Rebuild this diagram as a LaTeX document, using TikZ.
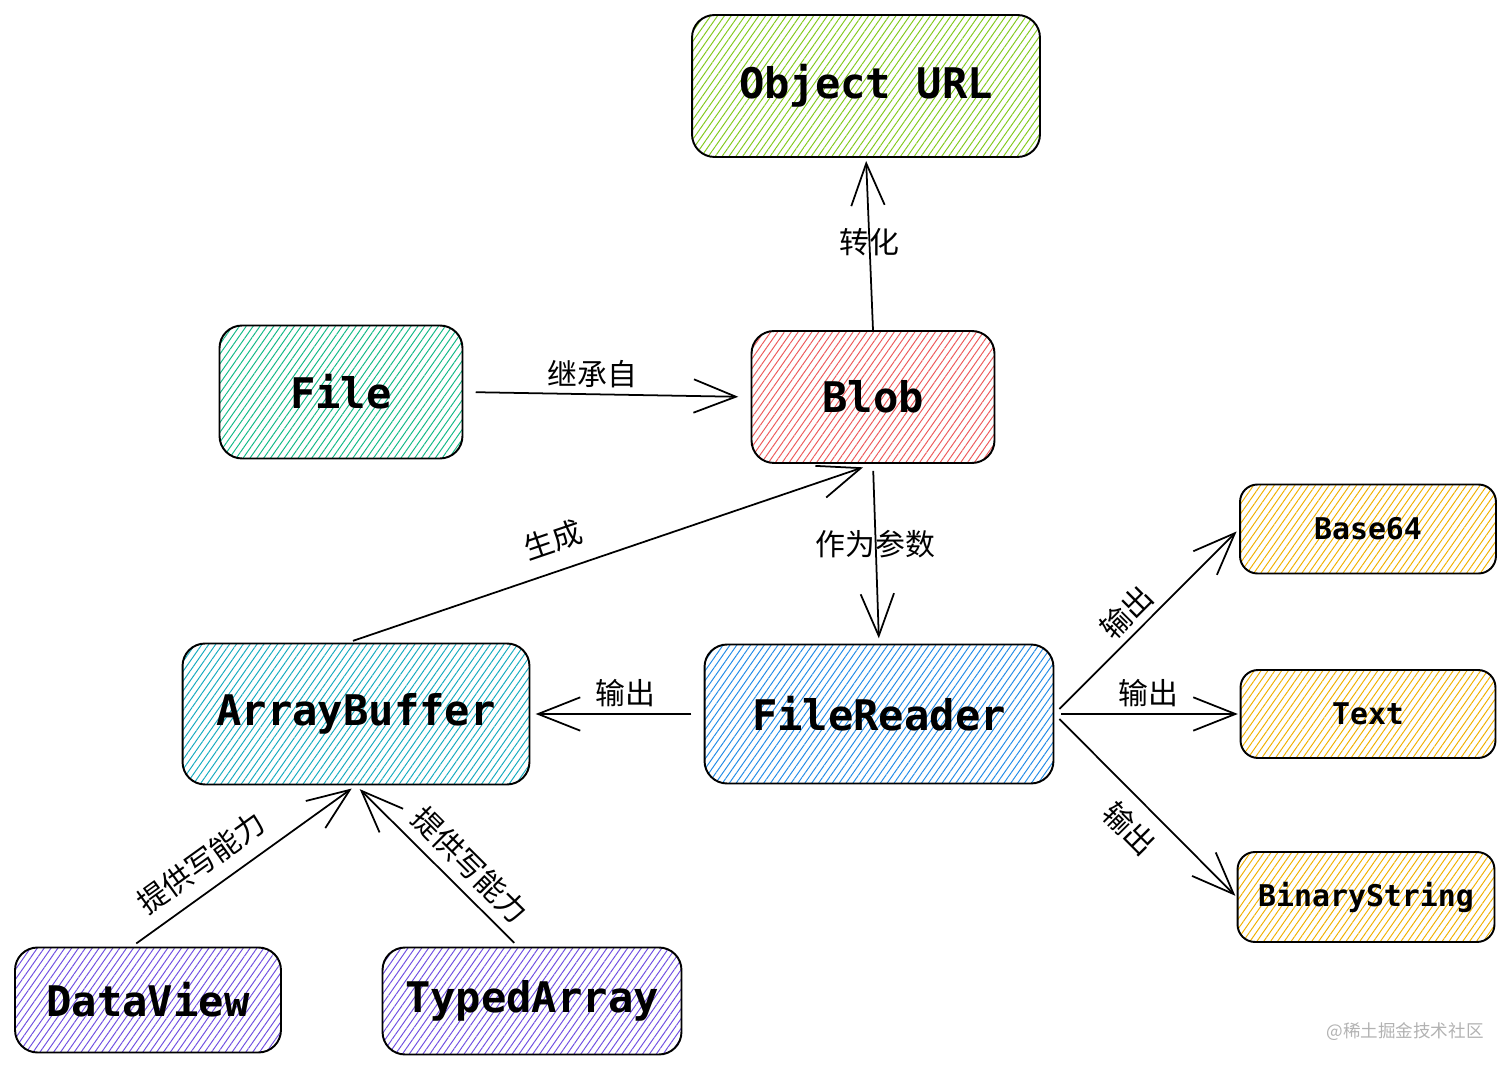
\documentclass[tikz,border=0pt]{standalone}
\usepackage{fontspec}
\setmonofont{DejaVu Sans Mono}
\newfontfamily\cjk{Noto Sans CJK SC}
\usetikzlibrary{arrows.meta,patterns.meta}

\definecolor{hgreen}{HTML}{82C91E}
\definecolor{hteal}{HTML}{12B886}
\definecolor{hred}{HTML}{EC5A5A}
\definecolor{hcyan}{HTML}{15AABF}
\definecolor{hblue}{HTML}{228BE6}
\definecolor{hyellow}{HTML}{F0B000}
\definecolor{hviolet}{HTML}{6F4FE0}

\begin{document}
\begin{tikzpicture} [x=0.02cm, y=-0.02cm,
  box/.style={draw, line width=1.1pt, rounded corners=0.45cm,
    font=\ttfamily\bfseries\fontsize{24}{28}\selectfont},
  smallbox/.style={box, rounded corners=0.35cm,
    font=\ttfamily\bfseries\fontsize{17}{20}\selectfont},
  hatch/.style={pattern={Lines[angle=55,distance=3.2pt,line width=0.55pt]}, pattern color=#1},
  link/.style={line width=1pt, -{Straight Barb[length=24pt,width=19pt,line width=1pt]}},
  lbl/.style={font=\cjk\fontsize{17}{20}\selectfont}]

\useasboundingbox (0,0) rectangle (1512,1070);

\node [box, hatch=hgreen, minimum width=6.96cm, minimum height=2.84cm] (url) at (866,86) {Object URL};
\node [box, hatch=hteal, minimum width=4.86cm, minimum height=2.66cm] (file) at (341,392) {File};
\node [box, hatch=hred, minimum width=4.86cm, minimum height=2.64cm] (blob) at (873,397) {Blob};
\node [box, hatch=hcyan, minimum width=6.94cm, minimum height=2.82cm] (buffer) at (356,714) {ArrayBuffer};
\node [box, hatch=hblue, minimum width=6.98cm, minimum height=2.78cm] (reader) at (879,714) {FileReader};
\node [smallbox, hatch=hyellow, minimum width=5.12cm, minimum height=1.78cm] (base) at (1368,529) {Base64};
\node [smallbox, hatch=hyellow, minimum width=5.10cm, minimum height=1.76cm] (text) at (1368,714) {Text};
\node [smallbox, hatch=hyellow, minimum width=5.14cm, minimum height=1.80cm] (binary) at (1366,897) {BinaryString};
\node [box, hatch=hviolet, minimum width=5.32cm, minimum height=2.10cm] (view) at (148,1000) {DataView};
\node [box, hatch=hviolet, minimum width=5.98cm, minimum height=2.14cm] (typed) at (532,1001) {TypedArray};

\draw [link, shorten >=2pt] (blob.north) -- (url.south) node [lbl, pos=0.51] (tourl) {转化};
\draw [link, shorten <=7pt, shorten >=7pt] (file.east) -- (blob.west) node [lbl, pos=0.45, above] (inherit) {继承自};
\draw [link, shorten <=4pt, shorten >=3pt] (blob.south) -- (reader.north) node [lbl, pos=0.445] (param) {作为参数};
\draw [link, shorten <=3pt, shorten >=6pt] ([xshift=-0.16cm]buffer.north) -- (blob.south) node [lbl, pos=0.41, above, sloped, yshift=6pt] (make) {生成};
\draw [link, shorten <=7pt, shorten >=3pt] (reader.west) -- (buffer.east) node [lbl, pos=0.45, above] (outbuf) {输出};
\draw [link, shorten <=4pt, shorten >=2pt] (reader.east) -- (base.west) node [lbl, pos=0.47, above, sloped] (outbase) {输出};
\draw [link, shorten <=4pt, shorten >=1pt] (reader.east) -- (text.west) node [lbl, pos=0.51, above] (outtext) {输出};
\draw [link, shorten <=4pt, shorten >=1pt] (reader.east) -- (binary.west) node [lbl, pos=0.52, below, sloped, yshift=-4pt] (outbin) {输出};
\draw [link, shorten <=3pt, shorten >=3pt] ([xshift=-0.32cm]view.north) -- (buffer.south) node [lbl, pos=0.38, above, sloped, yshift=4pt] (writeview) {提供写能力};
\draw [link, shorten <=3pt, shorten >=3pt] ([xshift=-0.28cm]typed.north) -- (buffer.south) node [lbl, pos=0.40, above, sloped, yshift=2pt] (writetyped) {提供写能力};

\node [font=\cjk\fontsize{10}{12}\selectfont, text=gray!60] (mark) at (1405,1032) {@稀土掘金技术社区};
\end{tikzpicture}
\end{document}
